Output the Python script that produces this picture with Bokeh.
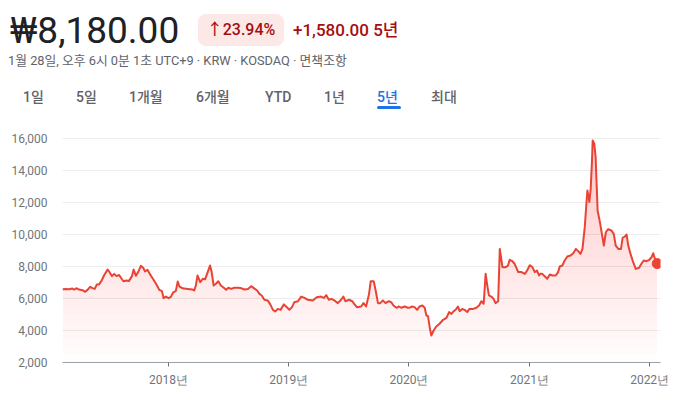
import numpy as np
import pandas as pd
from bokeh.plotting import figure
from bokeh.models import Range1d, FixedTicker, NumeralTickFormatter, Div
from bokeh.layouts import column
from bokeh.embed import file_html
from bokeh.resources import INLINE

# ---------------- data ----------------
dates = [
    "2017-02-13", "2017-02-23", "2017-03-05", "2017-03-15", "2017-03-20", "2017-03-28",
    "2017-04-04", "2017-04-15", "2017-04-23", "2017-04-30", "2017-05-08", "2017-05-15",
    "2017-05-22", "2017-05-28", "2017-06-04", "2017-06-12", "2017-06-19", "2017-06-30",
    "2017-07-05", "2017-07-13", "2017-07-20", "2017-07-27", "2017-08-04", "2017-08-11",
    "2017-08-17", "2017-08-27", "2017-09-03", "2017-09-12", "2017-09-17", "2017-09-24",
    "2017-10-02", "2017-10-09", "2017-10-16", "2017-10-22", "2017-10-29", "2017-11-05",
    "2017-11-14", "2017-11-24", "2017-12-04", "2017-12-12", "2017-12-17", "2017-12-24",
    "2018-01-01", "2018-01-08", "2018-01-15", "2018-01-23", "2018-01-29", "2018-02-03",
    "2018-02-13", "2018-02-28", "2018-03-15", "2018-03-20", "2018-03-25", "2018-03-30",
    "2018-04-07", "2018-04-15", "2018-04-22", "2018-04-30", "2018-05-07", "2018-05-12",
    "2018-05-18", "2018-05-25", "2018-06-01", "2018-06-09", "2018-06-18", "2018-06-25",
    "2018-07-02", "2018-07-10", "2018-07-20", "2018-07-30", "2018-08-09", "2018-08-19",
    "2018-08-30", "2018-09-09", "2018-09-17", "2018-09-27", "2018-10-04", "2018-10-11",
    "2018-10-19", "2018-10-29", "2018-11-06", "2018-11-14", "2018-11-21", "2018-11-29",
    "2018-12-07", "2018-12-17", "2018-12-24", "2019-01-03", "2019-01-11", "2019-01-18",
    "2019-01-29", "2019-02-08", "2019-02-18", "2019-02-28", "2019-03-15", "2019-03-27",
    "2019-04-09", "2019-04-18", "2019-04-25", "2019-05-03", "2019-05-10", "2019-05-20",
    "2019-05-30", "2019-06-09", "2019-06-16", "2019-06-22", "2019-07-03", "2019-07-13",
    "2019-07-20", "2019-07-27", "2019-08-09", "2019-08-16", "2019-08-24", "2019-09-02",
    "2019-09-07", "2019-09-16", "2019-09-22", "2019-09-29", "2019-10-06", "2019-10-14",
    "2019-10-22", "2019-11-01", "2019-11-08", "2019-11-15", "2019-11-24", "2019-12-02",
    "2019-12-09", "2019-12-19", "2019-12-29", "2020-01-05", "2020-01-11", "2020-01-18",
    "2020-01-26", "2020-02-02", "2020-02-11", "2020-02-18", "2020-02-23", "2020-02-28",
    "2020-03-04", "2020-03-09", "2020-03-16", "2020-03-24", "2020-04-03", "2020-04-14",
    "2020-04-24", "2020-05-02", "2020-05-09", "2020-05-16", "2020-05-24", "2020-05-29",
    "2020-06-03", "2020-06-11", "2020-06-18", "2020-06-26", "2020-07-03", "2020-07-14",
    "2020-07-24", "2020-08-01", "2020-08-08", "2020-08-15", "2020-08-21", "2020-08-26",
    "2020-08-31", "2020-09-07", "2020-09-14", "2020-09-20", "2020-09-28", "2020-10-03",
    "2020-10-11", "2020-10-21", "2020-10-28", "2020-11-02", "2020-11-10", "2020-11-17",
    "2020-11-28", "2020-12-08", "2020-12-18", "2020-12-25", "2021-01-02", "2021-01-10",
    "2021-01-17", "2021-01-24", "2021-01-30", "2021-02-03", "2021-02-09", "2021-02-17",
    "2021-02-24", "2021-03-04", "2021-03-12", "2021-03-22", "2021-03-29", "2021-04-03",
    "2021-04-11", "2021-04-18", "2021-04-26", "2021-05-06", "2021-05-14", "2021-05-22",
    "2021-05-29", "2021-06-05", "2021-06-11", "2021-06-18", "2021-06-23", "2021-06-26",
    "2021-07-02", "2021-07-06", "2021-07-10", "2021-07-12", "2021-07-17", "2021-07-21",
    "2021-07-24", "2021-07-27", "2021-08-03", "2021-08-09", "2021-08-15", "2021-08-21",
    "2021-08-28", "2021-09-07", "2021-09-14", "2021-09-20", "2021-09-28", "2021-10-06",
    "2021-10-11", "2021-10-18", "2021-10-23", "2021-10-28", "2021-11-04", "2021-11-12",
    "2021-11-20", "2021-11-30", "2021-12-07", "2021-12-14", "2021-12-22", "2021-12-31",
    "2022-01-07", "2022-01-12", "2022-01-17", "2022-01-24",
]
prices = [
    6580, 6600, 6580, 6620, 6560, 6640,
    6560, 6520, 6420, 6540, 6730, 6650,
    6600, 6870, 6880, 7125, 7440, 7810,
    7670, 7400, 7540, 7400, 7470, 7250,
    7080, 7125, 7100, 7400, 7810, 7420,
    7710, 8040, 7920, 7690, 7800, 7540,
    7250, 6920, 6540, 6460, 6020, 6120,
    6020, 6100, 6380, 6460, 7060, 6750,
    6640, 6600, 6560, 6500, 6810, 7440,
    7020, 7230, 7200, 7650, 8060, 7650,
    6810, 6920, 7080, 6810, 6670, 6540,
    6670, 6600, 6670, 6670, 6650, 6560,
    6600, 6770, 6650, 6500, 6290, 6190,
    5920, 5880, 5630, 5290, 5190, 5350,
    5290, 5630, 5500, 5300, 5460, 5770,
    5830, 6120, 6040, 5920, 5880, 6080,
    6120, 6040, 6210, 5920, 5980, 5880,
    5710, 5920, 6120, 5830, 5920, 5830,
    5630, 5460, 5500, 5710, 5500, 6290,
    7080, 7080, 6500, 5710, 5710, 5880,
    5710, 5830, 5770, 5560, 5420, 5500,
    5420, 5500, 5420, 5440, 5500, 5460,
    5290, 5500, 5560, 5420, 4940, 4900,
    4210, 3690, 4000, 4250, 4420, 4670,
    4790, 5150, 5040, 5210, 5350, 5500,
    5210, 5350, 5290, 5150, 5350, 5350,
    5420, 5560, 5830, 5670, 7540, 6810,
    6190, 6120, 5980, 5710, 5830, 9100,
    7960, 7960, 8060, 8420, 8330, 8170,
    7650, 7650, 7540, 7750, 8080, 7960,
    7650, 7750, 7440, 7540, 7540, 7375,
    7230, 7500, 7440, 7440, 7650, 8000,
    8060, 8375, 8625, 8690, 8830, 9100,
    8960, 8790, 9100, 10460, 11920, 12750,
    12030, 12850, 14620, 15870, 15670, 14830,
    13170, 11500, 10770, 10040, 9310, 10140,
    10330, 10250, 10040, 9310, 9100, 9100,
    9790, 9875, 10000, 9310, 8790, 8270,
    7850, 7920, 8170, 8375, 8330, 8420,
    8580, 8830, 8480, 8180,
]
y_ticks = [2000, 4000, 6000, 8000, 10000, 12000, 14000, 16000]
x_tick_dates = ["2018-01-01", "2019-01-01", "2020-01-01", "2021-01-01", "2022-01-01"]
x_tick_labels = ["2018년", "2019년", "2020년", "2021년", "2022년"]

price_text = "₩8,180.00"
change_pct = "↑23.94%"
change_abs = "+1,580.00 5년"
subtitle = "1월 28일, 오후 6시 0분 1초 UTC+9 · KRW · KOSDAQ · 면책조항"
tabs = ["1일", "5일", "1개월", "6개월", "YTD", "1년", "5년", "최대"]
active_tab = "5년"

# ---------------- styles ----------------
FONT = "Roboto, 'Noto Sans CJK KR', sans-serif"
RED = "#ea4335"
tab_left = [23, 76, 129, 196, 265, 324, 377, 431]
x_pad_days = 10

# ---------------- header ----------------
parts = [f'<div style="position:relative;width:683px;height:118px;font-family:{FONT};">']
parts.append(f'<div style="position:absolute;left:10px;top:12px;font-size:37px;line-height:37px;'
             f'color:#202124;white-space:nowrap;">{price_text}</div>')
parts.append(f'<div style="position:absolute;left:198px;top:14px;width:86px;height:32px;border-radius:8px;'
             f'background:#fce8e6;color:#a50e0e;font-size:16px;line-height:32px;text-align:center;'
             f'font-weight:500;white-space:nowrap;">{change_pct}</div>')
parts.append(f'<div style="position:absolute;left:293px;top:14px;font-size:17px;line-height:32px;'
             f'color:#a50e0e;font-weight:500;white-space:nowrap;">{change_abs}</div>')
parts.append(f'<div style="position:absolute;left:8px;top:53px;font-size:12.8px;line-height:16px;'
             f'color:#5f6368;white-space:nowrap;">{subtitle}</div>')
for t, lx in zip(tabs, tab_left):
    col = "#1a73e8" if t == active_tab else "#5f6368"
    parts.append(f'<div style="position:absolute;left:{lx}px;top:87px;font-size:14px;line-height:20px;'
                 f'font-weight:500;color:{col};white-space:nowrap;">{t}</div>')
    if t == active_tab:
        parts.append(f'<div style="position:absolute;left:{lx}px;top:106px;width:24px;height:3px;'
                     f'border-radius:2px;background:#1a73e8;"></div>')
parts.append('</div>')
header = Div(text="".join(parts), width=683, height=118, margin=0)

# ---------------- chart ----------------
x = pd.to_datetime(dates)
y = np.array(prices, dtype=float)

p = figure(width=683, height=281, x_axis_type="datetime", output_backend="svg",
           toolbar_location=None,
           x_range=Range1d(x[0].to_pydatetime(),
                           (x[-1] + pd.Timedelta(days=x_pad_days)).to_pydatetime()),
           y_range=Range1d(2000, 16625),
           min_border_left=62, min_border_right=23, min_border_top=10, min_border_bottom=37)
p.outline_line_color = None
p.background_fill_color = "white"
p.border_fill_color = "white"

# gradient-like fill under the line (stacked faint layers)
for lv in np.arange(2000, 16000, 500):
    p.varea(x=x, y1=lv, y2=np.maximum(y, lv), fill_color=RED, fill_alpha=0.011)

p.line(x, y, line_color=RED, line_width=2, line_join="round")
p.scatter(x=[x[-1]], y=[y[-1]], size=10, fill_color=RED, line_color=RED)

# axes
p.xgrid.visible = False
p.ygrid.ticker = FixedTicker(ticks=y_ticks)
p.ygrid.grid_line_color = "#ececec"

p.yaxis.ticker = FixedTicker(ticks=y_ticks)
p.yaxis.formatter = NumeralTickFormatter(format="0,0")
p.yaxis.axis_line_color = None
p.yaxis.major_tick_line_color = None
p.yaxis.minor_tick_line_color = None
p.yaxis.major_label_standoff = 9
p.yaxis.major_label_text_font = "Roboto"
p.yaxis.major_label_text_font_size = "12px"
p.yaxis.major_label_text_color = "#70757a"

xt = [pd.Timestamp(d).value / 1e6 for d in x_tick_dates]
p.xaxis.ticker = FixedTicker(ticks=xt)
p.xaxis.major_label_overrides = {t: lab for t, lab in zip(xt, x_tick_labels)}
p.xaxis.axis_line_color = "#9aa0a6"
p.xaxis.major_tick_line_color = "#70757a"
p.xaxis.major_tick_out = 4
p.xaxis.major_tick_in = 0
p.xaxis.minor_tick_line_color = None
p.xaxis.major_label_standoff = 6
p.xaxis.major_label_text_font = "Roboto"
p.xaxis.major_label_text_font_size = "12px"
p.xaxis.major_label_text_color = "#70757a"

layout = column(header, p)
open("out.html", "w").write(file_html(layout, INLINE))
